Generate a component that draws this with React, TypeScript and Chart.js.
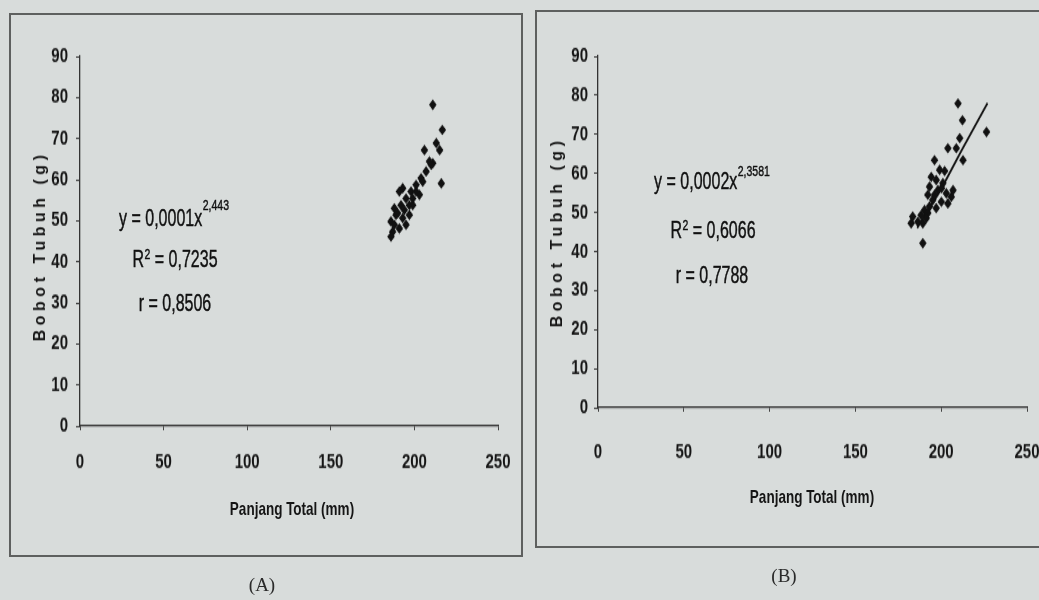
import React, { useEffect, useRef } from "react";
import { Chart, registerables } from "chart.js";

Chart.register(...registerables);

// ---- data ----
const xTickStep = 50; // Panjang Total (mm): 0 … 250
const yTickStep = 10; // Bobot Tubuh (g): 0 … 90
const xMin = 0;
const xMax = 250;
const yMin = 0;
const yMax = 90;

// (A)
const lengthA = [211, 216.7, 213.1, 206, 215.1, 211, 216.1, 210.1, 207, 204, 201, 205, 198, 193, 191, 199, 203, 195, 197, 192, 188, 189, 193, 197, 186, 191, 195, 187, 186, 201, 194, 190, 199, 188, 209];
const weightA = [78.2, 72.1, 68.9, 67.2, 67.2, 64, 59.1, 63.6, 62, 60.3, 58.7, 59.5, 57.1, 57.9, 57.1, 55.4, 56.3, 55.4, 53.8, 53.8, 53, 51.4, 50.6, 51.4, 49.8, 48.1, 49, 47.3, 46.1, 57.1, 52.6, 51.8, 53.8, 49, 64.4];

// (B)
const lengthB = [209.8, 212.4, 226.4, 210.8, 203.9, 212.7, 196.1, 199.1, 194.2, 197.1, 201, 193.2, 198.1, 203, 205.9, 192.2, 195.1, 200.1, 203.9, 193.2, 197.1, 190.3, 192.2, 188.3, 183.4, 186.4, 182.5, 189.3, 191.3, 189.3, 208.8, 206.9, 202, 196.1, 200.2];
const weightB = [77.9, 73.6, 70.6, 69, 66.4, 63.4, 63.4, 60.9, 59.1, 58.3, 57.5, 56.6, 55.7, 54.9, 54, 54.5, 53.2, 52.7, 52.3, 51.5, 51.1, 50.6, 49.8, 49.3, 48.9, 47.6, 47.2, 47.2, 48.5, 42.1, 66.4, 55.7, 60.6, 54.5, 56.2];
const trendLengthB = [186, 200, 212, 227];
const trendWeightB = [46, 56, 66, 78];

const xTitle = "Panjang Total (mm)";
const yTitle = "Bobot Tubuh (g)";

const SANS = "'Liberation Sans', Arial, sans-serif";
const INK = "#151515";
const K = 1.4; // the scan is stretched vertically

type Layout = {
  yWidth: number;
  xHeight: number;
  padTop: number;
  padRight: number;
  xTickPad: number;
  yTickPad: number;
};

function pairs(xs: number[], ys: number[]) {
  return xs.map((x, i) => ({ x, y: ys[i] }));
}

function makeConfig(xs: number[], ys: number[], tx: number[] | null, ty: number[] | null, L: Layout): any {
  const datasets: any[] = [
    {
      type: "scatter",
      data: pairs(xs, ys),
      pointStyle: "rectRot",
      pointRadius: 3.8,
      backgroundColor: "#111",
      borderColor: "#111",
      borderWidth: 0,
    },
  ];
  if (tx && ty) {
    datasets.push({
      type: "line",
      data: pairs(tx, ty),
      borderColor: "#111",
      borderWidth: 1.8,
      pointRadius: 0,
      tension: 0,
      fill: false,
    });
  }
  const tickFont = { family: SANS, size: 15, weight: "bold" as const };
  return {
    type: "scatter",
    data: { datasets },
    options: {
      animation: false,
      responsive: false,
      maintainAspectRatio: false,
      layout: { padding: { top: L.padTop, right: L.padRight, left: 0, bottom: 0 } },
      plugins: { legend: { display: false }, tooltip: { enabled: false } },
      scales: {
        x: {
          type: "linear",
          min: xMin,
          max: xMax,
          afterFit: (s: any) => {
            s.height = L.xHeight;
            s.paddingLeft = 0;
            s.paddingRight = 0;
          },
          ticks: { stepSize: xTickStep, padding: L.xTickPad, color: INK, font: tickFont, maxRotation: 0, autoSkip: false },
          grid: { drawOnChartArea: false, drawTicks: true, tickLength: 3, color: "#444", lineWidth: 1 },
          border: { display: true, color: "#333", width: 1.3 },
        },
        y: {
          type: "linear",
          min: yMin,
          max: yMax,
          afterFit: (s: any) => {
            s.width = L.yWidth;
            s.paddingTop = 0;
            s.paddingBottom = 0;
          },
          ticks: { stepSize: yTickStep, padding: L.yTickPad, color: INK, font: tickFont, autoSkip: false },
          grid: { drawOnChartArea: false, drawTicks: true, tickLength: 4, color: "#444", lineWidth: 1 },
          border: { display: true, color: "#333", width: 1.3 },
        },
      },
    },
  };
}

function ChartCanvas(props: { left: number; top: number; width: number; height: number; config: any }) {
  const ref = useRef<HTMLCanvasElement | null>(null);
  useEffect(() => {
    if (!ref.current) return;
    const chart = new Chart(ref.current, props.config);
    return () => chart.destroy();
  }, []);
  return (
    <canvas
      ref={ref}
      width={props.width}
      height={props.height}
      style={{
        position: "absolute",
        left: props.left,
        top: props.top,
        width: props.width,
        height: props.height,
        transform: `scaleY(${K})`,
        transformOrigin: "0 0",
      }}
    />
  );
}

function Eq(props: { cx: number; cy: number; children: any }) {
  return (
    <div
      style={{
        position: "absolute",
        left: props.cx,
        top: props.cy,
        transform: "translate(-50%, -50%) scaleY(1.45)",
        whiteSpace: "nowrap",
        fontFamily: SANS,
        fontSize: 16,
        color: "#111",
        lineHeight: "18px",
        WebkitTextStroke: "0.3px #111",
      }}
    >
      {props.children}
    </div>
  );
}

function sup(va: number): React.CSSProperties {
  return { fontSize: 10.5, verticalAlign: va, lineHeight: 0, marginLeft: 0.5 };
}

function YTitle(props: { cx: number; cy: number }) {
  return (
    <div
      style={{
        position: "absolute",
        left: props.cx,
        top: props.cy,
        transform: "translate(-50%, -50%) rotate(-90deg)",
        whiteSpace: "nowrap",
        fontFamily: SANS,
        fontWeight: "bold",
        fontSize: 16,
        letterSpacing: 4.5,
        color: INK,
      }}
    >
      {yTitle}
    </div>
  );
}

function XTitle(props: { cx: number; cy: number }) {
  return (
    <div
      style={{
        position: "absolute",
        left: props.cx,
        top: props.cy,
        transform: "translate(-50%, -50%) scaleY(1.35)",
        whiteSpace: "nowrap",
        fontFamily: SANS,
        fontWeight: "bold",
        fontSize: 13.5,
        color: INK,
      }}
    >
      {xTitle}
    </div>
  );
}

function Caption(props: { cx: number; cy: number; text: string }) {
  return (
    <div
      style={{
        position: "absolute",
        left: props.cx,
        top: props.cy,
        transform: "translate(-50%, -50%)",
        whiteSpace: "nowrap",
        fontFamily: "'Liberation Serif', 'DejaVu Serif', serif",
        fontSize: 19,
        color: "#2a2a2a",
      }}
    >
      {props.text}
    </div>
  );
}

// internal (unstretched) canvas geometry
const layoutA: Layout = { yWidth: 71, xHeight: 94, padTop: 31, padRight: 25, xTickPad: 14, yTickPad: 8 };
const layoutB: Layout = { yWidth: 63, xHeight: 100, padTop: 33, padRight: 12, xTickPad: 20, yTickPad: 6 };

export default function App() {
  const configA = makeConfig(lengthA, weightA, null, null, layoutA);
  const configB = makeConfig(lengthB, weightB, trendLengthB, trendWeightB, layoutB);
  return (
    <div
      style={{
        position: "fixed",
        left: 0,
        top: 0,
        width: 1039,
        height: 600,
        background: "#d8dcdb",
        overflow: "hidden",
      }}
    >
      {/* frame A */}
      <div
        style={{
          position: "absolute",
          left: 9,
          top: 13,
          width: 514,
          height: 544,
          border: "2px solid #5e605f",
          boxSizing: "border-box",
        }}
      />
      {/* frame B */}
      <div
        style={{
          position: "absolute",
          left: 535,
          top: 10,
          width: 520,
          height: 538,
          border: "2px solid #5e605f",
          boxSizing: "border-box",
        }}
      />
      <ChartCanvas left={9} top={13} width={514} height={389} config={configA} />
      <ChartCanvas left={535} top={10} width={504} height={384} config={configB} />

      <YTitle cx={40} cy={246} />
      <YTitle cx={557} cy={232} />
      <XTitle cx={292} cy={509} />
      <XTitle cx={812} cy={497} />

      <Eq cx={174} cy={218}>
        y = 0,0001x<sup style={sup(11)}>2,443</sup>
      </Eq>
      <Eq cx={175} cy={260}>
        R<sup style={sup(6)}>2</sup> = 0,7235
      </Eq>
      <Eq cx={175} cy={304}>
        r = 0,8506
      </Eq>

      <Eq cx={712} cy={182}>
        y = 0,0002x<sup style={sup(9)}>2,3581</sup>
      </Eq>
      <Eq cx={713} cy={231}>
        R<sup style={sup(6)}>2</sup> = 0,6066
      </Eq>
      <Eq cx={712} cy={276}>
        r = 0,7788
      </Eq>

      <Caption cx={262} cy={585} text="(A)" />
      <Caption cx={784} cy={576} text="(B)" />
    </div>
  );
}
